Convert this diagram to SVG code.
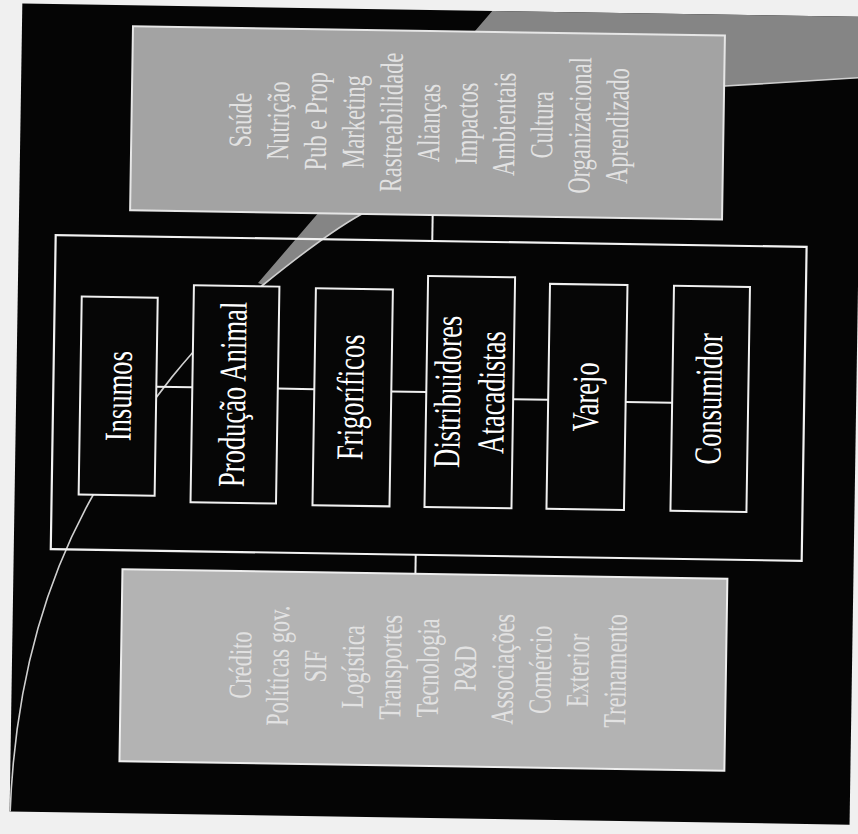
<svg xmlns="http://www.w3.org/2000/svg" width="858" height="834" viewBox="0 0 858 834">
<style>
.bg{fill:#f0f0f0}
.slide{fill:#050505}
.band{fill:#858585}
.swoosh{fill:none;stroke:#cfcfcf;stroke-width:1.6}
.panel{fill:#a3a3a3;stroke:#e6e6e6;stroke-width:2}
.panel2{fill:#b3b3b3;stroke:#eeeeee;stroke-width:2}
.frame{fill:none;stroke:#f2f2f2;stroke-width:2.2}
.box{fill:#060606;stroke:#f0f0f0;stroke-width:2}
.conn{stroke:#f0f0f0;stroke-width:2;fill:none}
.pt{font-family:"Liberation Serif","Times New Roman",serif;font-size:32px;fill:#e2e2e2;text-anchor:middle}
.bt{font-family:"Liberation Serif","Times New Roman",serif;font-size:38px;fill:#ffffff;text-anchor:middle}
</style>
<defs>
<clipPath id="slideClip"><rect x="16" y="10" width="840" height="808" transform="rotate(0.9 430 410)"/></clipPath>
</defs>
<rect class="bg" x="0" y="0" width="858" height="834"/>
<rect class="slide" x="16" y="10" width="840" height="808" transform="rotate(0.9 430 410)"/>
<g id="swoosh" clip-path="url(#slideClip)">
<path class="band" d="M258,283 L506,-5 L870,-5 L870,77 L858,78 L725,86 C600,100 480,150 360,215 C330,232 300,255 263,285 Z"/>
<path class="swoosh" d="M10,815 C14,700 40,590 92,497 C140,410 200,335 263,285 C300,255 330,232 360,215 C480,150 600,100 725,86 L870,77"/>
</g>
<g transform="rotate(0.9 430 410)">
<g id="fatores-superiores">
<rect class="panel" x="127" y="31" width="592" height="184"/>
<text class="pt" transform="translate(236.5,123) rotate(-90) scale(0.7,1)" y="10">Saúde</text>
<text class="pt" transform="translate(274.2,123) rotate(-90) scale(0.7,1)" y="10">Nutrição</text>
<text class="pt" transform="translate(311.9,123) rotate(-90) scale(0.7,1)" y="10">Pub e Prop</text>
<text class="pt" transform="translate(349.6,123) rotate(-90) scale(0.7,1)" y="10">Marketing</text>
<text class="pt" transform="translate(387.3,123) rotate(-90) scale(0.7,1)" y="10">Rastreabilidade</text>
<text class="pt" transform="translate(425,123) rotate(-90) scale(0.7,1)" y="10">Alianças</text>
<text class="pt" transform="translate(462.7,123) rotate(-90) scale(0.7,1)" y="10">Impactos</text>
<text class="pt" transform="translate(500.4,123) rotate(-90) scale(0.7,1)" y="10">Ambientais</text>
<text class="pt" transform="translate(538.1,123) rotate(-90) scale(0.7,1)" y="10">Cultura</text>
<text class="pt" transform="translate(575.8,123) rotate(-90) scale(0.7,1)" y="10">Organizacional</text>
<text class="pt" transform="translate(613.5,123) rotate(-90) scale(0.7,1)" y="10">Aprendizado</text>
</g>
<g id="fatores-inferiores">
<rect class="panel2" x="125" y="574" width="605" height="192"/>
<text class="pt" transform="translate(245,668) rotate(-90) scale(0.7,1)" y="10">Crédito</text>
<text class="pt" transform="translate(282.5,668) rotate(-90) scale(0.7,1)" y="10">Políticas gov.</text>
<text class="pt" transform="translate(320,668) rotate(-90) scale(0.7,1)" y="10">SIF</text>
<text class="pt" transform="translate(357.5,668) rotate(-90) scale(0.7,1)" y="10">Logística</text>
<text class="pt" transform="translate(395,668) rotate(-90) scale(0.7,1)" y="10">Transportes</text>
<text class="pt" transform="translate(432.5,668) rotate(-90) scale(0.7,1)" y="10">Tecnologia</text>
<text class="pt" transform="translate(470,668) rotate(-90) scale(0.7,1)" y="10">P&amp;D</text>
<text class="pt" transform="translate(507.5,668) rotate(-90) scale(0.7,1)" y="10">Associações</text>
<text class="pt" transform="translate(545,668) rotate(-90) scale(0.7,1)" y="10">Comércio</text>
<text class="pt" transform="translate(582.5,668) rotate(-90) scale(0.7,1)" y="10">Exterior</text>
<text class="pt" transform="translate(620,668) rotate(-90) scale(0.7,1)" y="10">Treinamento</text>
</g>
<g id="cadeia">
<rect class="frame" x="53" y="241" width="751" height="314"/>
</g>
<g id="connectors">
<line class="conn" x1="429.6" y1="215" x2="429.6" y2="241"/>
<line class="conn" x1="418" y1="555" x2="418" y2="574"/>
<line class="conn" x1="156" y1="391" x2="192" y2="391"/>
<line class="conn" x1="277.5" y1="391" x2="314" y2="391"/>
<line class="conn" x1="391" y1="392" x2="426" y2="392"/>
<line class="conn" x1="513" y1="398" x2="548" y2="398"/>
<line class="conn" x1="625.5" y1="399" x2="672" y2="399"/>
</g>
<g id="insumos">
<rect class="box" x="80" y="302" width="76" height="198"/>
<text class="bt" transform="translate(119,401) rotate(-90) scale(0.7,1)" y="12">Insumos</text>
</g>
<g id="producao-animal">
<rect class="box" x="192" y="289" width="85.5" height="217"/>
<text class="bt" transform="translate(233,397.5) rotate(-90) scale(0.7,1)" y="12">Produção Animal</text>
</g>
<g id="frigorificos">
<rect class="box" x="314" y="290" width="77" height="217"/>
<text class="bt" transform="translate(351,398.5) rotate(-90) scale(0.7,1)" y="12">Frigoríficos</text>
</g>
<g id="distribuidores-atacadistas">
<rect class="box" x="426" y="276" width="87" height="231"/>
<text class="bt" transform="translate(448,391.5) rotate(-90) scale(0.7,1)" y="12">Distribuidores</text>
<text class="bt" transform="translate(492,391.5) rotate(-90) scale(0.7,1)" y="12">Atacadistas</text>
</g>
<g id="varejo">
<rect class="box" x="548" y="282" width="77.5" height="225"/>
<text class="bt" transform="translate(586,394.5) rotate(-90) scale(0.7,1)" y="12">Varejo</text>
</g>
<g id="consumidor">
<rect class="box" x="672" y="282" width="76" height="225"/>
<text class="bt" transform="translate(709,394.5) rotate(-90) scale(0.7,1)" y="12">Consumidor</text>
</g>
</g>
</svg>
